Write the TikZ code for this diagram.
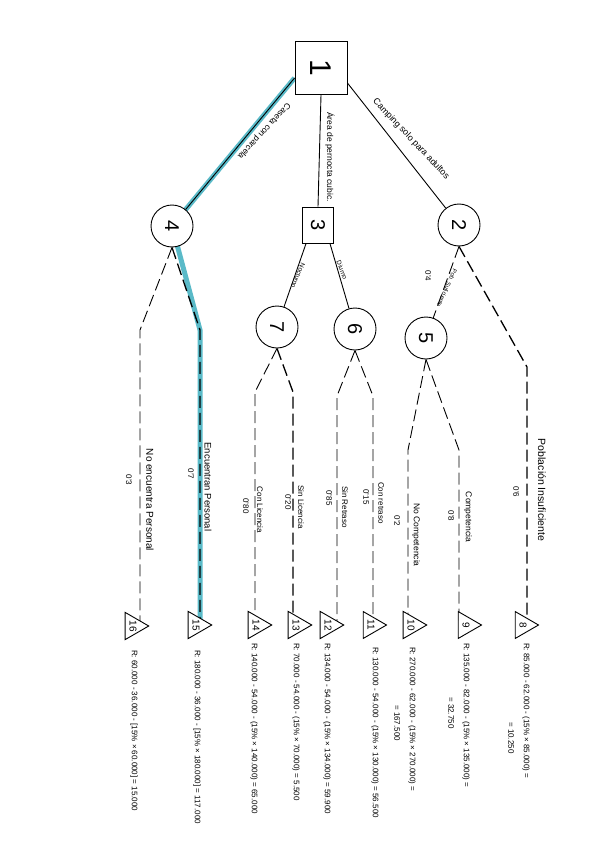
\documentclass[tikz,border=0pt]{standalone}
\usepackage{fontspec}
\setmainfont{Liberation Sans}
\usepackage{graphicx}
\usetikzlibrary{shapes.geometric,calc}
\pgfdeclarelayer{bg}
\pgfsetlayers{bg,main}
\definecolor{hl}{RGB}{90,186,200}
\begin{document}
\begin{tikzpicture}[x=1pt,y=-1pt,
  ln/.style={line width=0.9pt},
  dsh/.style={ln, dash pattern=on 12pt off 5pt},
  hvy/.style={line width=1.3pt},
  hlp/.style={line width=5pt, draw=hl},
  circ/.style={circle, draw, fill=white, minimum size=42pt, inner sep=0pt, ln, font=\fontsize{20}{20}\selectfont},
  sq/.style={rectangle, draw, fill=white, inner sep=0pt, ln},
  tri/.style={regular polygon, regular polygon sides=3, shape border rotate=-90, draw, fill=white, minimum size=31pt, inner sep=0pt, ln, font=\fontsize{10}{10}\selectfont},
  res/.style={rotate=-90, anchor=west, inner sep=0pt, font=\fontsize{8}{9}\selectfont},
  lab/.style={rotate=-90, inner sep=0pt, font=\fontsize{10}{11}\selectfont},
  slab/.style={rotate=-90, inner sep=0pt, font=\fontsize{8}{9}\selectfont},
  prob/.style={rotate=-90, inner sep=0pt, font=\fontsize{8}{9}\selectfont},
  elab/.style={inner sep=0pt, font=\fontsize{8.5}{9}\selectfont},
]
\useasboundingbox (0,0) rectangle (600,848);

% decision / chance nodes
\node[sq, minimum width=52pt, minimum height=53pt, font=\fontsize{30}{30}\selectfont] (b1) at (321,68) {\rotatebox{-90}{1}};
\node[sq, minimum width=31pt, minimum height=36pt, font=\fontsize{20}{20}\selectfont] (b3) at (318,225) {\rotatebox{-90}{3}};
\node[circ] (c4) at (172,226) {\rotatebox{-90}{4}};
\node[circ] (c2) at (459,225) {\rotatebox{-90}{2}};
\node[circ] (c7) at (277,327) {\rotatebox{-90}{7}};
\node[circ] (c6) at (355,329) {\rotatebox{-90}{6}};
\node[circ] (c5) at (426,338) {\rotatebox{-90}{5}};

% end nodes
\node[tri] (t16) at (133,626) {\rotatebox{-90}{16}};
\node[tri] (t15) at (196,625) {\rotatebox{-90}{15}};
\node[tri] (t14) at (256,625) {\rotatebox{-90}{14}};
\node[tri] (t13) at (296,625) {\rotatebox{-90}{13}};
\node[tri] (t12) at (328,625) {\rotatebox{-90}{12}};
\node[tri] (t11) at (371,625) {\rotatebox{-90}{11}};
\node[tri] (t10) at (411,625) {\rotatebox{-90}{10}};
\node[tri] (t9)  at (466,625) {\rotatebox{-90}{9}};
\node[tri] (t8)  at (523,625) {\rotatebox{-90}{8}};

% bend points
\coordinate (k16) at (140,330);
\coordinate (k15) at (200,330);
\coordinate (k14) at (255,392);
\coordinate (k13) at (293,392);
\coordinate (k12) at (337,396);
\coordinate (k11) at (373,396);
\coordinate (k10) at (408,450);
\coordinate (k9)  at (459,450);
\coordinate (k8)  at (527,367);

\begin{pgfonlayer}{bg}
  \draw[hlp] ([yshift=-10pt]b1.west) -- (c4.center) -- (k15) -- (k15 |- t15);
  \draw[ln] ([yshift=-10pt]b1.west) -- (c4);
  \draw[ln] (b1.south) -- (b3.north);
  \draw[ln] ([yshift=-15pt]b1.east) -- (c2);
  \draw[ln] ([xshift=4pt]b3.south west) -- (c7);
  \draw[ln] ([xshift=-4pt]b3.south east) -- (c6);
  \draw[dsh] (c2.south) -- (c5);
  \draw[dsh, hvy] (c2.south) -- (k8) -- (k8 |- t8);
  \draw[dsh] (c4.south) -- (k16) -- (k16 |- t16);
  \draw[dsh, hvy] (c4.south) -- (k15) -- (k15 |- t15);
  \draw[dsh] (c7.south) -- (k14) -- (k14 |- t14);
  \draw[dsh, hvy] (c7.south) -- (k13) -- (k13 |- t13);
  \draw[dsh] (c6.south) -- (k12) -- (k12 |- t12);
  \draw[dsh] (c6.south) -- (k11) -- (k11 |- t11);
  \draw[dsh] (c5.south) -- (k10) -- (k10 |- t10);
  \draw[dsh] (c5.south) -- (k9) -- (k9 |- t9);
\end{pgfonlayer}

% edge labels
\node[elab, rotate=-132.65] (e14) at (264,131) {Caseta con parcela};
\node[elab, rotate=-90, font=\fontsize{8.5}{9}\selectfont] (e13) at (330,157) {Área de pernocta cubic.};
\node[elab, rotate=-46.7, font=\fontsize{9}{10}\selectfont] (e12) at (411,139) {Camping solo para adultos};
\node[elab, rotate=-112.8, font=\fontsize{6.5}{7}\selectfont] (e37) at (298,276) {Nocturno};
\node[elab, rotate=-68.4, font=\fontsize{6.5}{7}\selectfont] (e36) at (342,270) {Diurno};
\node[elab, rotate=-113.9, font=\fontsize{6}{7}\selectfont] (e25) at (447,288) {Pob. Suficiente};
\node[prob] (p25) at (428,276) {0'4};

% branch labels
\node[lab] (l16) at (150,500) {No encuentra Personal};
\node[prob] (p16) at (129,480) {0'3};
\node[lab, font=\fontsize{9.5}{10}\selectfont] (l15) at (208,487) {Encuentran Personal};
\node[prob] (p15) at (191,474) {0'7};
\node[slab] (l14) at (260,510) {Con Licencia};
\node[prob] (p14) at (246,506) {0'80};
\node[slab] (l13) at (301,507) {Sin Licencia};
\node[prob] (p13) at (288,502) {0'20};
\node[slab] (l12) at (345,507) {Sin Retraso};
\node[prob] (p12) at (329,498) {0'85};
\node[slab] (l11) at (381,503) {Con retraso};
\node[prob] (p11) at (366,497) {0'15};
\node[slab, font=\fontsize{8.5}{9}\selectfont] (l10) at (416,535) {No Competencia};
\node[prob] (p10) at (397,521) {0'2};
\node[slab, font=\fontsize{8.5}{9}\selectfont] (l9) at (468,517) {Competencia};
\node[prob] (p9) at (451,516) {0'8};
\node[lab, font=\fontsize{10.5}{11}\selectfont] (l8) at (542,490) {Población Insuficiente};
\node[prob] (p8) at (516,492) {0'6};

% results
\node[res] (r16) at (134,650) {R: 60.000 - 36.000 - [15\% × 60.000] = 15.000};
\node[res] (r15) at (197,650) {R: 180.000 - 36.000 - [15\% × 180.000] = 117.000};
\node[res] (r14) at (254,643) {R: 140.000 - 54.000 - (15\% × 140.000) = 65.000};
\node[res] (r13) at (296,643) {R: 70.000 - 54.000 - (15\% × 70.000) = 5.500};
\node[res] (r12) at (327,643) {R: 134.000 - 54.000 - (15\% × 134.000) = 59.900};
\node[res] (r11) at (375,647) {R: 130.000 - 54.000 - (15\% × 130.000) = 56.500};
\node[res] (r10) at (412,647) {R: 270.000 - 62.000 - (15\% × 270.000) =};
\node[res] (r10b) at (397,705) {= 167.500};
\node[res] (r9) at (466,643) {R: 135.000 - 82.000 - (15\% × 135.000) =};
\node[res] (r9b) at (451,697) {= 32.750};
\node[res] (r8) at (526,643) {R: 85.000 - 62.000 - (15\% × 85.000) =};
\node[res] (r8b) at (511,722) {= 10.250};
\end{tikzpicture}
\end{document}
